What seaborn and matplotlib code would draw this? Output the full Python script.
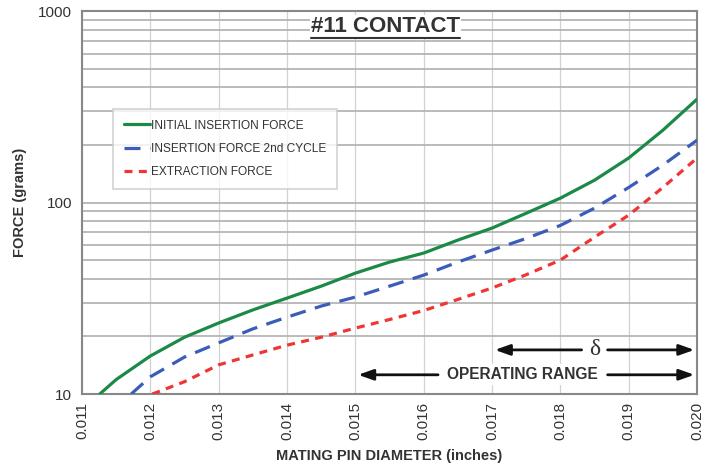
import numpy as np
import pandas as pd
import matplotlib
matplotlib.use('Agg')
import matplotlib.pyplot as plt
import seaborn as sns
from matplotlib.ticker import LogLocator, NullFormatter
from matplotlib.lines import Line2D

# data
initial_x = [0.01126, 0.0115, 0.012, 0.0125, 0.013, 0.0135, 0.014, 0.0145, 0.015, 0.0155,
             0.016, 0.0165, 0.017, 0.0175, 0.018, 0.0185, 0.019, 0.0195, 0.020]
initial_y = [10, 11.9, 15.8, 19.8, 23.5, 27.5, 31.7, 36.6, 42.8, 48.9,
             54.5, 63.7, 73.6, 88, 105.5, 131, 171, 239, 347]

second_x = [0.01172, 0.012, 0.0125, 0.013, 0.0135, 0.014, 0.0145, 0.015, 0.0155,
            0.016, 0.0165, 0.017, 0.0175, 0.018, 0.0185, 0.019, 0.0195, 0.020]
second_y = [10, 12.3, 15.6, 18.5, 21.9, 25.2, 28.8, 32.1, 36.6,
            41.8, 48.9, 56.5, 65, 76, 93.6, 120, 157, 212]

extract_x = [0.01203, 0.0125, 0.013, 0.0135, 0.014, 0.0145, 0.015, 0.0155,
             0.016, 0.0165, 0.017, 0.0175, 0.018, 0.0185, 0.019, 0.0195, 0.020]
extract_y = [10, 11.6, 14.2, 16.0, 18.0, 19.8, 22.1, 24.5,
             27.3, 31.2, 35.8, 42, 50.1, 66, 86, 120, 171]

x_ticks = [0.011, 0.012, 0.013, 0.014, 0.015, 0.016, 0.017, 0.018, 0.019, 0.020]
y_ticks = [10, 100, 1000]

#set up figure
sns.set_style('white')
plt.rcParams['font.family'] = ['Liberation Sans', 'DejaVu Sans']
fig = plt.figure(figsize=(7.07, 4.75), dpi=100)
ax = fig.add_axes([0.116, 0.1705, 0.87, 0.806])

df1 = pd.DataFrame({'x': initial_x, 'y': initial_y})
df2 = pd.DataFrame({'x': second_x, 'y': second_y})
df3 = pd.DataFrame({'x': extract_x, 'y': extract_y})

sns.lineplot(ax=ax, data=df1, x='x', y='y', color='#1b8a47', lw=2.3,
             label='INITIAL INSERTION FORCE', zorder=5)
sns.lineplot(ax=ax, data=df2, x='x', y='y', color='#3b5cb8', lw=2.3,
             label='INSERTION FORCE 2nd CYCLE', zorder=5)
ax.lines[-1].set_dashes([5, 3])
sns.lineplot(ax=ax, data=df3, x='x', y='y', color='#f03535', lw=2.3,
             label='EXTRACTION FORCE', zorder=5)
ax.lines[-1].set_dashes([2.5, 2])

#axes
ax.set_yscale('log')
ax.set_xlim(0.011, 0.020)
ax.set_ylim(10, 1000)
ax.set_xticks(x_ticks, ['%.3f' % t for t in x_ticks], rotation=90)
ax.set_yticks(y_ticks, [str(t) for t in y_ticks])
ax.yaxis.set_minor_locator(LogLocator(base=10, subs=np.arange(2, 10)))
ax.yaxis.set_minor_formatter(NullFormatter())
ax.tick_params(axis='both', which='major', labelsize=11, colors='#333333',
               length=4, width=1, direction='out', pad=3)
ax.tick_params(axis='y', which='minor', length=0)
ax.tick_params(axis='x', length=3)
ax.grid(True, axis='y', which='both', color='#b5b5b5', lw=1.3, zorder=0)
ax.grid(True, axis='x', which='major', color='#d2d2d2', lw=0.9, zorder=0)
for s in ax.spines.values():
    s.set_color('#888888')
    s.set_linewidth(1.5)

ax.set_xlabel('MATING PIN DIAMETER (inches)', fontsize=10.5, fontweight='bold',
              color='#333333', labelpad=6)
ax.set_ylabel('FORCE (grams)', fontsize=10.5, fontweight='bold', color='#333333',
              labelpad=8)

#legend
leg = ax.legend(loc='upper left', bbox_to_anchor=(0.05, 0.745), fontsize=8.6,
                frameon=True, fancybox=False, handlelength=2.2, handletextpad=0.1,
                borderpad=0.9, labelspacing=0.95, borderaxespad=0)
leg.get_frame().set_edgecolor('#c8c8c8')
leg.get_frame().set_linewidth(1.2)
for t in leg.get_texts():
    t.set_color('#333333')

#title
title = ax.text(0.01544, 830, '#11 CONTACT', fontsize=16, fontweight='bold',
                color='#333333', ha='center', va='center', zorder=6,
                bbox=dict(facecolor='white', edgecolor='none', pad=1))

#range arrows
arrow_kw = dict(arrowstyle='-|>,head_length=0.9,head_width=0.32', color='#111111', lw=2)
ax.annotate('', xy=(0.0170, 17), xytext=(0.01835, 17), arrowprops=arrow_kw, zorder=6)
ax.annotate('', xy=(0.0200, 17), xytext=(0.01865, 17), arrowprops=arrow_kw, zorder=6)
ax.text(0.0185, 17, 'δ', fontsize=17, ha='center', va='center', color='#333333',
        family=['Liberation Serif', 'DejaVu Serif'], zorder=7,
        bbox=dict(facecolor='white', edgecolor='none', pad=2))
ax.annotate('', xy=(0.0150, 12.6), xytext=(0.01625, 12.6), arrowprops=arrow_kw, zorder=6)
ax.annotate('', xy=(0.0200, 12.6), xytext=(0.01865, 12.6), arrowprops=arrow_kw, zorder=6)
ax.text(0.01745, 12.6, 'OPERATING RANGE', fontsize=11.2, fontweight='bold',
        ha='center', va='center', color='#333333', zorder=7,
        bbox=dict(facecolor='white', edgecolor='none', pad=2))

#underline the title
fig.canvas.draw()
bb = title.get_window_extent().transformed(fig.transFigure.inverted())
fig.add_artist(Line2D([bb.x0, bb.x1], [bb.y0 - 0.002, bb.y0 - 0.002],
                      color='#333333', lw=1.5, transform=fig.transFigure))

plt.savefig('out.png', dpi=100)
